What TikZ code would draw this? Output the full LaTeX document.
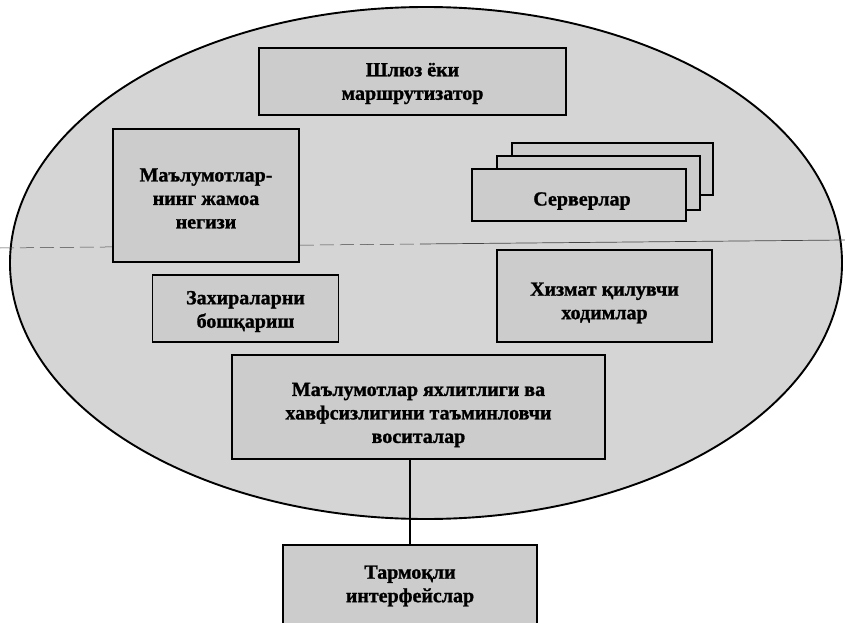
\documentclass[tikz,border=0pt]{standalone}
\usepackage{fontspec}
\setmainfont{Liberation Serif}[BoldFeatures={FakeBold=1.2}]
\begin{document}
\begin{tikzpicture}[x=1pt,y=-1pt,
  txt/.style={font=\bfseries\fontsize{20}{23.5}\selectfont, align=center, inner sep=0pt},
  unit/.style={draw=black, line width=1.9pt, fill=gray!40, inner sep=0pt},
  link/.style={line width=2.8pt}]
  \useasboundingbox (0,0) rectangle (845,623);
  \clip (0,0) rectangle (845,623);
  \fill[white] (0,0) rectangle (845,623);

  % network segment
  \draw[line width=1.9pt, fill=gray!33] (426,263) ellipse [x radius=416, y radius=256];
  \draw[gray!55!black, line width=0.5pt, dash pattern=on 14pt off 6pt] (0,248) -- (420,244);
  \draw[gray!55!black, line width=0.7pt] (420,244) -- (845,240);

  % gateway
  \node[unit, minimum width=307, minimum height=67] (gw) at (412.5,81.5) {};
  \node[txt] (gwT) at ([yshift=-2pt]gw.center) {Шлюз ёки\\маршрутизатор};

  % shared database
  \node[unit, minimum width=186, minimum height=133] (db) at (206,195.5) {};
  \node[txt] (dbT) at ([yshift=-3pt]db.center) {Маълумотлар-\\нинг жамоа\\негизи};

  % stack of servers
  \node[unit, minimum width=201, minimum height=52] (srv3) at (612.5,169) {};
  \node[unit, minimum width=203, minimum height=54] (srv2) at (598.5,183) {};
  \node[unit, minimum width=214, minimum height=52] (srv1) at (579,195) {};
  \node[txt] (srvT) at ([xshift=3pt,yshift=-6pt]srv1.center) {Серверлар};

  % backup management
  \node[unit, minimum width=186, minimum height=67] (bk) at (245.5,308.5) {};
  \node[txt] (bkT) at ([yshift=-3pt]bk.center) {Захираларни\\бошқариш};

  % service staff
  \node[unit, minimum width=215, minimum height=92] (staff) at (604.5,296) {};
  \node[txt] (staffT) at ([yshift=-7pt]staff.center) {Хизмат қилувчи\\ходимлар};

  % integrity and security tools
  \node[unit, minimum width=373, minimum height=104] (sec) at (418.5,407) {};
  \node[txt] (secT) at ([yshift=-8pt]sec.center)
    {Маълумотлар яхлитлиги ва\\хавфсизлигини таъминловчи\\воситалар};

  % network interfaces
  \node[unit, minimum width=254, minimum height=110, anchor=north] (net) at (410,544) {};
  \node[txt] (netT) at ([yshift=-42pt]net.north) {Тармоқли\\интерфейслар};

  \draw[link] (sec.south -| net.north) -- (net.north);
\end{tikzpicture}
\end{document}
